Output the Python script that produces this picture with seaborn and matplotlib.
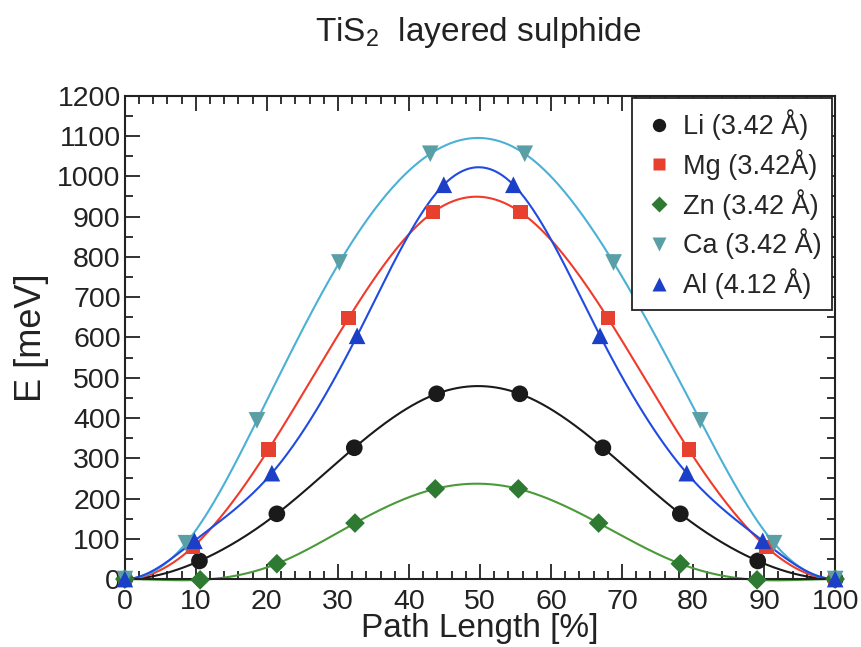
import numpy as np
import pandas as pd
import matplotlib
matplotlib.use("Agg")
import matplotlib.pyplot as plt
import seaborn as sns
from matplotlib.ticker import MultipleLocator

# NEB path points
li_x = [0, 10.5, 21.4, 32.3, 43.9, 55.6, 67.3, 78.2, 89.1, 100]
li_y = [0, 45, 162, 326, 460, 460, 326, 162, 45, 0]
mg_x = [0, 9.6, 20.2, 31.5, 43.4, 55.7, 68.0, 79.4, 90.3, 100]
mg_y = [0, 80, 321, 648, 911, 911, 648, 321, 80, 0]
zn_x = [0, 10.6, 21.4, 32.4, 43.7, 55.4, 66.7, 78.2, 89.0, 100]
zn_y = [0, -2, 38, 139, 224, 224, 139, 38, -2, 0]
ca_x = [0, 8.6, 18.6, 30.2, 43.0, 56.3, 68.8, 81.0, 91.4, 100]
ca_y = [0, 89, 394, 786, 1056, 1056, 786, 394, 89, 0]
al_x = [0, 9.8, 20.7, 32.7, 44.9, 54.7, 66.9, 79.1, 89.8, 100]
al_y = [0, 95, 263, 604, 979, 979, 604, 263, 95, 0]

labels = ["Li (3.42 Å)", "Mg (3.42Å)", "Zn (3.42 Å)", "Ca (3.42 Å)", "Al (4.12 Å)"]


def clamped_spline(x, y, xs):
    # cubic spline with zero slope at both end points (minima of the path)
    x = np.asarray(x, float)
    y = np.asarray(y, float)
    n = len(x)
    h = np.diff(x)
    A = np.zeros((n, n))
    r = np.zeros(n)
    A[0, 0], A[0, 1] = 2 * h[0], h[0]
    r[0] = 3 * ((y[1] - y[0]) / h[0])
    A[-1, -2], A[-1, -1] = h[-1], 2 * h[-1]
    r[-1] = 3 * (0 - (y[-1] - y[-2]) / h[-1])
    for i in range(1, n - 1):
        A[i, i - 1] = h[i - 1]
        A[i, i] = 2 * (h[i - 1] + h[i])
        A[i, i + 1] = h[i]
        r[i] = 3 * ((y[i + 1] - y[i]) / h[i] - (y[i] - y[i - 1]) / h[i - 1])
    c = np.linalg.solve(A, r)
    b = np.diff(y) / h - h * (2 * c[:-1] + c[1:]) / 3
    d = np.diff(c) / (3 * h)
    idx = np.clip(np.searchsorted(x, xs) - 1, 0, n - 2)
    dx = xs - x[idx]
    return y[idx] + b[idx] * dx + c[idx] * dx ** 2 + d[idx] * dx ** 3


sns.set_style("ticks")
plt.rcParams["font.family"] = ["Liberation Sans", "DejaVu Sans"]
plt.rcParams["mathtext.default"] = "regular"

fig = plt.figure(figsize=(8.61, 6.47), dpi=100)
ax = fig.add_axes([0.145, 0.105, 0.825, 0.747])

series = [
    (li_x, li_y, "o", "#1a1a1a", "#1a1a1a", 12),
    (mg_x, mg_y, "s", "#e8402e", "#f03a2a", 10.5),
    (zn_x, zn_y, "D", "#2f7a32", "#4a9a3a", 10),
    (ca_x, ca_y, "v", "#5a9fa6", "#4bb0d6", 12),
    (al_x, al_y, "^", "#1c3fc8", "#1f4be0", 12),
]

xs = np.linspace(0, 100, 600)
handles = []
for (x, y, mk, mcol, lcol, ms), lab in zip(series, labels):
    curve = pd.DataFrame({"x": xs, "y": clamped_spline(x, y, xs)})
    sns.lineplot(data=curve, x="x", y="y", ax=ax, color=lcol, lw=1.5,
                 sort=False, clip_on=False, zorder=2)
    pts = pd.DataFrame({"x": x, "y": y})
    sns.scatterplot(data=pts, x="x", y="y", ax=ax, marker=mk, color=mcol,
                    s=ms ** 2, edgecolor="none", clip_on=False, zorder=3)
    h, = ax.plot([], [], ls="none", marker=mk, color=mcol, ms=ms * 0.8,
                 mec="none", label=lab)
    handles.append(h)

ax.set_xlim(0, 100)
ax.set_ylim(0, 1200)
ax.xaxis.set_major_locator(MultipleLocator(10))
ax.xaxis.set_minor_locator(MultipleLocator(2))
ax.yaxis.set_major_locator(MultipleLocator(100))
ax.yaxis.set_minor_locator(MultipleLocator(50))
ax.tick_params(which="both", direction="in", top=True, right=True,
               labelsize=20.5, colors="#222222", width=1.3, pad=3)
ax.tick_params(axis="x", which="major", pad=7)
ax.tick_params(which="major", length=11)
ax.tick_params(which="minor", length=6)
for s in ax.spines.values():
    s.set_linewidth(1.5)
    s.set_color("#222222")

ax.set_xlabel("Path Length [%]", fontsize=24, color="#222222", labelpad=-1)
ax.set_ylabel("E [meV]", fontsize=26, color="#222222", labelpad=6)
fig.text(0.555, 0.95, r"TiS$_2$  layered sulphide", fontsize=24,
         ha="center", va="center", color="#222222")

leg = ax.legend(handles=handles, loc="upper right", fontsize=19.5,
                frameon=True, fancybox=False, borderaxespad=0.1,
                handletextpad=0.3, handlelength=1.2, labelspacing=0.33,
                borderpad=0.4)
leg.get_frame().set_edgecolor("#222222")
leg.get_frame().set_linewidth(1.3)
leg.get_frame().set_alpha(1)

fig.savefig("out.png", dpi=100)
